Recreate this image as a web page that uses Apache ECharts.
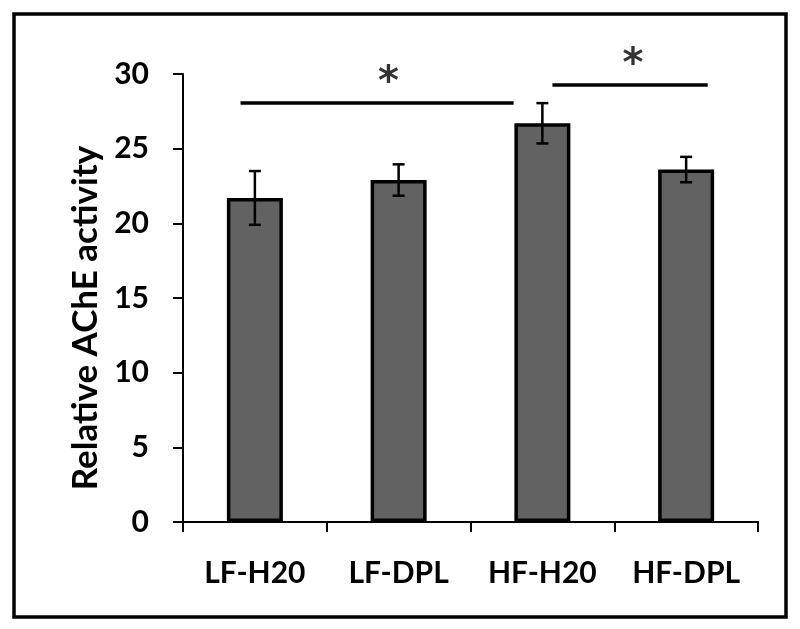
<!DOCTYPE html>
<html>
<head>
<meta charset="utf-8">
<script src="https://cdn.jsdelivr.net/npm/echarts@6/dist/echarts.min.js"></script>
<style>html,body{margin:0;padding:0;background:#fff}#c{width:800px;height:629px}</style>
</head>
<body>
<div id="c"></div>
<script>
var categories = ['LF-H20', 'LF-DPL', 'HF-H20', 'HF-DPL'];
var means = [21.7, 22.9, 26.7, 23.6];
var errors = [1.8, 1.05, 1.35, 0.85];
var yTicks = [0, 5, 10, 15, 20, 25, 30];
var sigLines = [
  [[0.40, 28.05], [2.30, 28.05]],
  [[2.57, 29.27], [3.65, 29.27]]
];
var sigStars = [[1.43, 29.75], [3.13, 30.95]];
var yTitle = 'Relative AChE activity';

var chart = echarts.init(document.getElementById('c'), null, {renderer: 'canvas'});
var FONT = 'Lato';
var series = [
  {
    type: 'bar',
    data: means,
    barWidth: 56,
    itemStyle: {color: '#626262', borderColor: '#000', borderWidth: 3.5},
    z: 2
  },
  {
    type: 'custom',
    z: 3,
    data: means.map(function (m, i) { return [i, m - errors[i], m + errors[i]]; }),
    renderItem: function (params, api) {
      var x = api.value(0);
      var lo = api.coord([x, api.value(1)]);
      var hi = api.coord([x, api.value(2)]);
      var hw = 6;
      var st = {stroke: '#000', lineWidth: 2.5};
      return {
        type: 'group',
        children: [
          {type: 'line', shape: {x1: lo[0], y1: lo[1], x2: hi[0], y2: hi[1]}, style: st},
          {type: 'line', shape: {x1: hi[0] - hw, y1: hi[1], x2: hi[0] + hw, y2: hi[1]}, style: st},
          {type: 'line', shape: {x1: lo[0] - hw, y1: lo[1], x2: lo[0] + hw, y2: lo[1]}, style: st}
        ]
      };
    }
  }
];
sigLines.forEach(function (seg) {
  series.push({
    type: 'line', xAxisIndex: 1, data: seg, symbol: 'none', silent: true, clip: false,
    lineStyle: {color: '#000', width: 3.5}, z: 4
  });
});
series.push({
  type: 'scatter', xAxisIndex: 1, data: sigStars, symbolSize: 1, clip: false,
  itemStyle: {color: 'rgba(0,0,0,0)'},
  label: {show: true, position: 'inside', formatter: '*', color: '#000',
    fontFamily: 'DejaVu Sans', fontWeight: 'bold', fontSize: 40, offset: [0, 6]},
  z: 5
});

chart.setOption({
  animation: false,
  backgroundColor: '#fff',
  grid: {left: 183, right: 42, top: 74, bottom: 107, containLabel: false},
  graphic: [
    {
      type: 'rect', shape: {x: 14, y: 14, width: 772, height: 603},
      style: {fill: 'none', stroke: '#000', lineWidth: 3.5}, z: 100
    },
    {
      type: 'text', x: 86, y: 318, rotation: Math.PI / 2,
      style: {text: yTitle, fill: '#000', font: 'bold 35px Lato', align: 'center', verticalAlign: 'middle'}
    }
  ],
  xAxis: [
    {
      type: 'category', data: categories,
      axisLine: {lineStyle: {color: '#000', width: 2}},
      axisTick: {show: true, length: 10, lineStyle: {color: '#000', width: 2}},
      axisLabel: {color: '#000', fontFamily: FONT, fontWeight: 'bold', fontSize: 30, margin: 36},
      splitLine: {show: false}
    },
    {type: 'value', min: 0, max: 4, show: false}
  ],
  yAxis: {
    type: 'value', min: 0, max: 30, interval: 5,
    axisLine: {show: true, lineStyle: {color: '#000', width: 2}},
    axisTick: {show: true, length: 10, lineStyle: {color: '#000', width: 2}},
    axisLabel: {color: '#000', fontFamily: FONT, fontWeight: 'bold', fontSize: 30, margin: 34,
      formatter: function (v) { return yTicks.indexOf(v) >= 0 ? String(v) : ''; }},
    splitLine: {show: false}
  },
  series: series
});
</script>
</body>
</html>
